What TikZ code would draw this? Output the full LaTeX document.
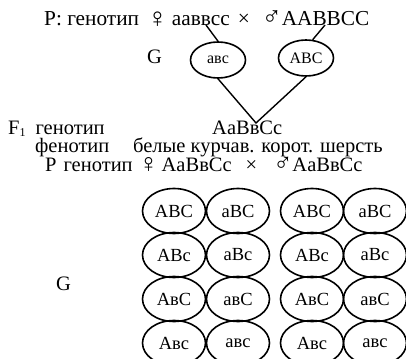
\documentclass[tikz,border=0pt]{standalone}
\usepackage{fontspec}
\setmainfont{Liberation Serif}
\usetikzlibrary{shapes.geometric}
\newcommand{\fem}{\raisebox{-1.5pt}{\scalebox{1.3}{♀}}}
\newcommand{\mal}{\scalebox{1.25}{♂}}
\begin{document}
\begin{tikzpicture}[x=1pt,y=-1pt,
  every node/.style={inner sep=0pt, font=\fontsize{20.5}{20.5}\selectfont},
  txt/.style={anchor=base west},
  gsmall/.style={draw, ellipse, line width=1.6pt, minimum width=55pt, minimum height=36pt, inner sep=0pt, font=\fontsize{16}{16}\selectfont},
  gbig/.style={draw, ellipse, line width=1.6pt, minimum width=63pt, minimum height=45pt, inner sep=0pt, font=\fontsize{18.5}{18.5}\selectfont},
  conn/.style={line width=1.4pt}]
\useasboundingbox (0,0) rectangle (406,358);
\clip (0,0) rectangle (406,358);
% first cross
\node[txt, font=\fontsize{21.3}{21.3}\selectfont] (p1) at (44,26) {P: генотип\hspace{8pt}\fem\hspace{4pt}aaввcc\hspace{8pt}×\hspace{12pt}\mal AABBCC};
\coordinate (fv) at (206,25);
\coordinate (mb) at (325,25);
\node[txt] (g) at (147,64) {G};
\node[gsmall] (g1) at (218,60) {aвc};
\node[gsmall] (g2) at (306,58) {ABC};
\draw[conn] (fv) -- (g1.north);
\draw[conn] (mb) -- (g2.70);
\coordinate (apex) at (256,123);
\draw[conn] (g1.south) -- (apex) -- (g2.south);
% F1
\node[txt] (f1l) at (8,135) {F\raisebox{-2pt}{\fontsize{12}{12}\selectfont 1}\hspace{10pt}генотип};
\node[txt] (f1g) at (212,135) {AaBвCc};
\node[txt] (f1f) at (35,153) {фенотип};
\node[txt] (f1p) at (133,153) {белые курчав. корот. шерсть};
% second cross
\node[txt] (p2) at (45,171) {P\hspace{7pt}генотип\hspace{6pt}\fem\hspace{3pt}AaBвCc\hspace{14pt}×\hspace{16pt}\mal AaBвCc};
\node[txt] (g2l) at (56,290) {G};
% gametes grid
\foreach \col/\cx in {1/174,2/238,3/312,4/375}{
  \foreach \row/\cy/\la/\lb in {1/211/ABC/aBC,2/255/ABc/aBc,3/299/AвC/aвC,4/343/Aвc/aвc}{
    \ifodd\col
      \node[gbig] (m\row\col) at (\cx,\cy) {\la};
    \else
      \node[gbig] (m\row\col) at (\cx,\cy) {\lb};
    \fi
  }
}
\end{tikzpicture}
\end{document}
